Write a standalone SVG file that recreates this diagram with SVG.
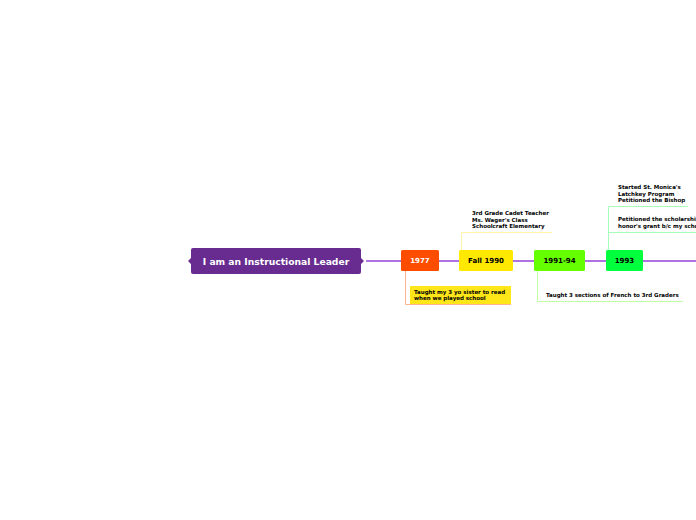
<svg xmlns="http://www.w3.org/2000/svg" width="696" height="520" viewBox="0 0 696 520">
<style>
text{font-family:"DejaVu Sans",Verdana,sans-serif;font-weight:bold}
.nt{font-size:7px;text-anchor:middle;dominant-baseline:central}
.note{font-size:5.5px;fill:#000}
.main{stroke:#9444D9;stroke-width:1.6;fill:none}
</style>
<rect width="696" height="520" fill="#fff"/>
<g id="connectors">
<path class="main" d="M366 261H401M439 261H459M513 261H534M585 261H606M643 261H696"/>
<path d="M405.5 271V304.5H511" stroke="#FFB591" stroke-width="1" fill="none"/>
<path d="M461.5 250V232.5H552" stroke="#FFF3A6" stroke-width="1" fill="none"/>
<path d="M537.5 271V301.5H683" stroke="#C2FFA3" stroke-width="1" fill="none"/>
<path d="M608.5 250V206.5H688M608.5 232.5H696" stroke="#A6FFB8" stroke-width="1" fill="none"/>
</g>
<g id="root">
<rect x="191" y="248" width="170" height="26" rx="2" fill="#682B8F"/>
<path d="M191 258L188 261L191 264Z M361 258L364 261L361 264Z" fill="#682B8F"/>
<text x="276" y="261.5" font-size="9.2" fill="#fff" text-anchor="middle" dominant-baseline="central">I am an Instructional Leader</text>
</g>
<g id="n1977">
<rect x="401" y="250" width="38" height="21" rx="1.5" fill="#FF4D00"/>
<text class="nt" x="420" y="261" fill="#fff">1977</text>
</g>
<g id="note1977">
<rect x="410" y="286" width="101" height="18" fill="#FFE619"/>
<text class="note" x="414" y="294">Taught my 3 yo sister to read</text>
<text class="note" x="414" y="300">when we played school</text>
</g>
<g id="nfall1990">
<rect x="459" y="250" width="54" height="21" rx="1.5" fill="#FFE900"/>
<text class="nt" x="486" y="261" fill="#000">Fall 1990</text>
</g>
<g id="notefall">
<text class="note" x="472" y="215">3rd Grade Cadet Teacher</text>
<text class="note" x="472" y="221.5">Ms. Wager's Class</text>
<text class="note" x="472" y="228">Schoolcraft Elementary</text>
</g>
<g id="n199194">
<rect x="534" y="250" width="51" height="21" rx="1.5" fill="#66FF00"/>
<text class="nt" x="559.5" y="261" fill="#000">1991-94</text>
</g>
<g id="note9194">
<text class="note" x="546" y="297">Taught 3 sections of French to 3rd Graders</text>
</g>
<g id="n1993">
<rect x="606" y="250" width="37" height="21" rx="1.5" fill="#00FF3C"/>
<text class="nt" x="624.5" y="261" fill="#000">1993</text>
</g>
<g id="notes1993">
<text class="note" x="618" y="189">Started St. Monica's</text>
<text class="note" x="618" y="195.5">Latchkey Program</text>
<text class="note" x="618" y="202">Petitioned the Bishop</text>
<text class="note" x="618" y="221">Petitioned the scholarship</text>
<text class="note" x="618" y="227.5">honor's grant b/c my school</text>
</g>
</svg>
